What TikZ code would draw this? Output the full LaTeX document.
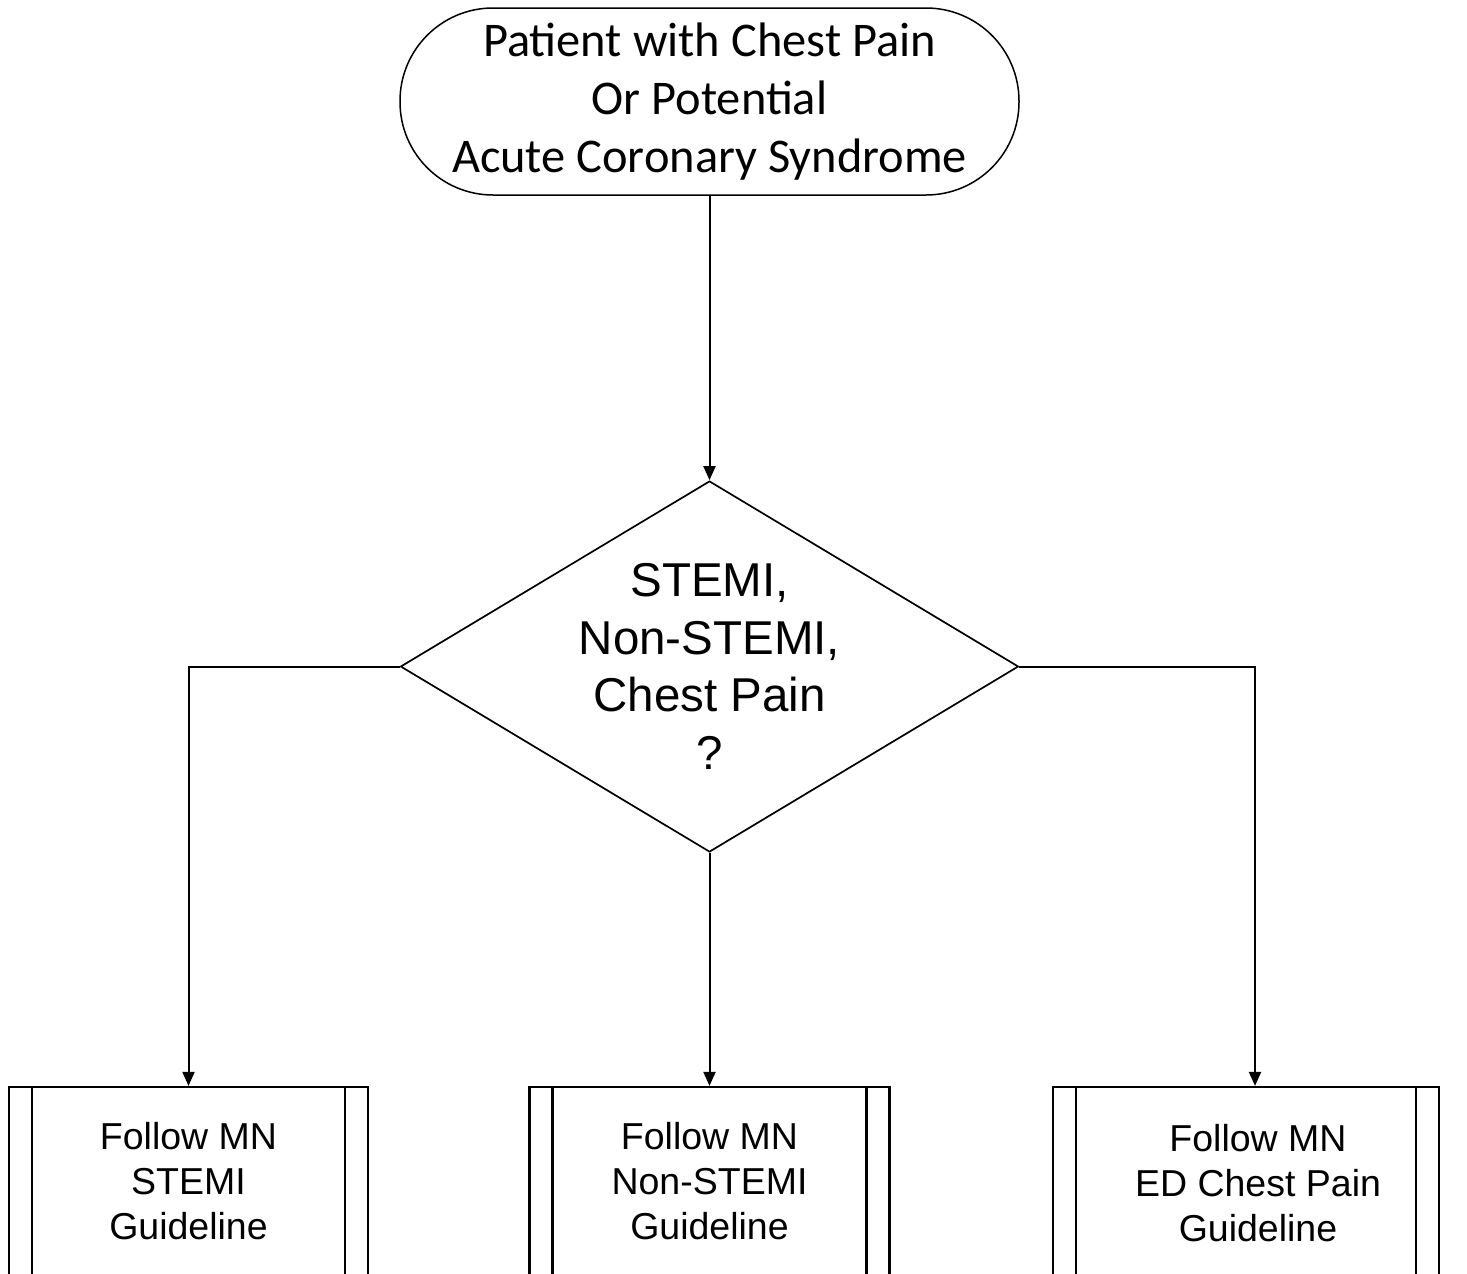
\documentclass[tikz,border=0pt]{standalone}
\usepackage{fontspec}
\setmainfont{Liberation Sans}
\newfontfamily\calibrifont{Carlito}
\usepackage{tikz}
\usetikzlibrary{shapes, arrows.meta, positioning}

\begin{document}
\begin{tikzpicture}
  [
    x=1pt, y=-1pt,
    Terminal/.style={rectangle, draw=black, rounded corners=93pt, line width=1.5pt, minimum width=619pt, minimum height=187pt, inner sep=0pt, align=center, font=\calibrifont\fontsize{48.4}{58}\selectfont},
    Decision/.style={diamond, draw=black, line width=1.7pt, minimum width=618pt, minimum height=371pt, inner sep=0pt},
    Question/.style={align=center, inner sep=0pt, font=\fontsize{47.5}{57.5}\selectfont},
    BoxText/.style={align=center, inner sep=0pt, font=\fontsize{37.5}{45}\selectfont},
    Process/.style={rectangle, draw=black, line width=2.2pt, minimum height=189pt, inner sep=0pt, BoxText,
      path picture={
        \draw[line width=2.2pt] ([xshift=23pt]path picture bounding box.north west) -- ([xshift=23pt]path picture bounding box.south west);
        \draw[line width=2.2pt] ([xshift=-23pt]path picture bounding box.north east) -- ([xshift=-23pt]path picture bounding box.south east);
      }},
    Flow/.style={draw, line width=2pt, -{Triangle[length=14pt, width=12pt]}}
  ]
  \useasboundingbox (0, 0) rectangle (1467, 1274);
  \clip (0, 0) rectangle (1467, 1274);

  % Nodes
  \node[Terminal] (start) at(709.5, 101.5) {Patient with Chest Pain\\Or Potential\\Acute Coronary Syndrome};

  \node[Decision] (q) at(709.5, 666.5) {};
  \node[Question] (qtext) at(709.5, 666.5) {STEMI,\\Non-STEMI,\\Chest Pain\\?};

  \node[Process, minimum width=359pt] (stemi) at(188.5, 1181.5) {Follow MN\\STEMI\\Guideline};
  \node[Process, minimum width=360pt] (nstemi) at(709.5, 1181.5) {Follow MN\\Non-STEMI\\Guideline};
  \node[Process, minimum width=386pt] (edcp) at(1246, 1181.5) {};
  \node[BoxText] (edcptext) at(1258, 1183) {Follow MN\\ED Chest Pain\\Guideline};

  \coordinate (rturn) at(1255, 666.5);

  % Lines
  \path [Flow] (start) -- (q);
  \path [Flow] (q.west) -| (stemi.north);
  \path [Flow] (q.south) -- (nstemi.north);
  \path [Flow] (q.east) -- (rturn) -- (rturn |- edcp.north);

\end{tikzpicture}
\end{document}
